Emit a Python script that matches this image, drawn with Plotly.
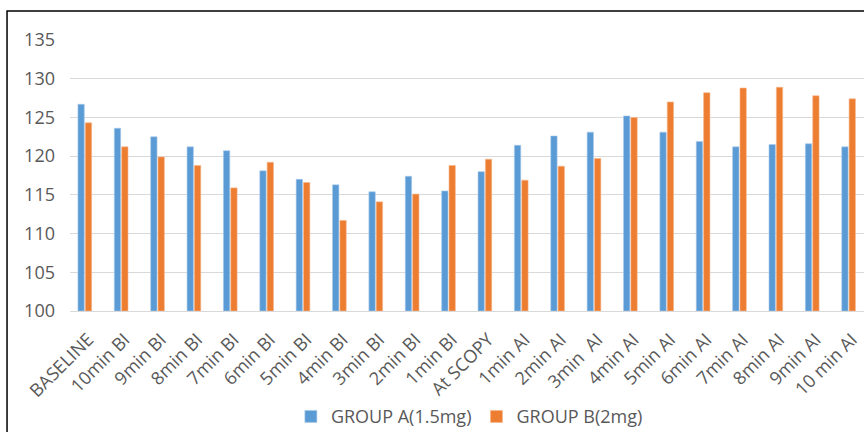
import plotly.graph_objects as go

categories = ["BASELINE", "10min BI", "9min BI", "8min BI", "7min BI", "6min BI",
              "5min BI", "4min BI", "3min BI", "2min BI", "1min BI", "At SCOPY",
              "1min AI", "2min AI", "3min\u00a0 AI", "4min AI", "5min AI", "6min AI",
              "7min AI", "8min AI", "9min AI", "10 min AI"]
group_a = [126.7, 123.6, 122.5, 121.2, 120.7, 118.1, 117.0, 116.3, 115.4, 117.4, 115.5,
           118.0, 121.4, 122.6, 123.1, 125.2, 123.1, 121.9, 121.2, 121.5, 121.6, 121.2]
group_b = [124.3, 121.2, 119.9, 118.8, 115.9, 119.2, 116.6, 111.7, 114.1, 115.1, 118.8,
           119.6, 116.9, 118.7, 119.7, 125.0, 127.0, 128.2, 128.8, 128.9, 127.8, 127.4]
series_names = ["GROUP A(1.5mg)", "GROUP B(2mg)"]
y_ticks = [100, 105, 110, 115, 120, 125, 130, 135]

FONT = "Open Sans"
GRAY = "#595959"

fig = go.Figure()
fig.add_trace(go.Bar(x=categories, y=[v - 100 for v in group_a], base=100,
                     name=series_names[0], width=0.175, offset=-0.282,
                     marker=dict(color="#5B9BD5", line=dict(color="#a9c9ea", width=0.6))))
fig.add_trace(go.Bar(x=categories, y=[v - 100 for v in group_b], base=100,
                     name=series_names[1], width=0.175, offset=-0.080,
                     marker=dict(color="#ED7D31", line=dict(color="#f5b890", width=0.6))))

fig.update_layout(
    width=864, height=432,
    margin=dict(l=70, r=0, t=40, b=120.7, pad=0, autoexpand=False),
    paper_bgcolor="white", plot_bgcolor="white",
    font=dict(family=FONT, size=18, color=GRAY),
    barmode="overlay",
    showlegend=True,
    legend=dict(orientation="h", x=0.503, xanchor="center", y=-0.39, yanchor="middle",
                font=dict(family=FONT, size=18, color=GRAY), itemwidth=30,
                bgcolor="rgba(0,0,0,0)"),
    xaxis=dict(type="category", categoryorder="array", categoryarray=categories,
               range=[-0.5, 21.33], tickangle=-45, showgrid=False, ticks="",
               showline=True, linecolor="#d9d9d9", linewidth=1, automargin=False,
               tickfont=dict(family=FONT, size=18, color=GRAY), ticklabelstandoff=10),
    yaxis=dict(range=[100, 135], tickvals=y_ticks, showgrid=True, gridcolor="#d9d9d9",
               gridwidth=1, zeroline=False, showline=False, ticks="", automargin=False,
               tickfont=dict(family=FONT, size=18, color=GRAY), ticklabelstandoff=14),
    shapes=[dict(type="rect", xref="paper", yref="paper", x0=-0.0793, x1=1.3,
                 y0=-0.6, y1=1.107, line=dict(color="black", width=1.5),
                 fillcolor="rgba(0,0,0,0)", layer="above")],
)

fig.write_html("out.html")
